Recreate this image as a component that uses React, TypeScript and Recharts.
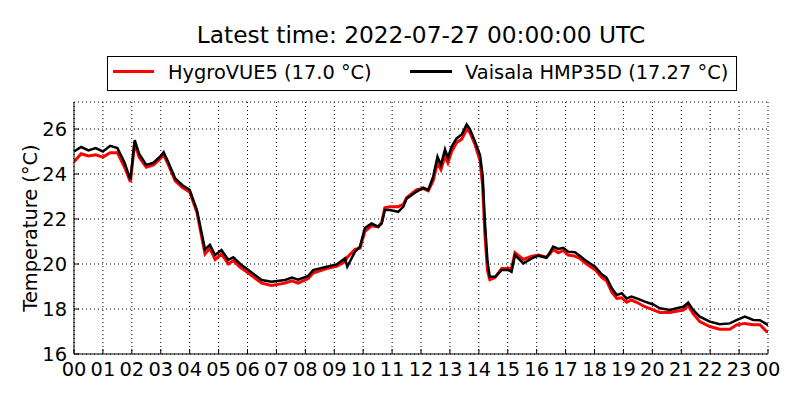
import React from 'react';
import { LineChart, Line, XAxis, YAxis, CartesianGrid } from 'recharts';

const hours = [0, 0.25, 0.5, 0.75, 1.0, 1.25, 1.5, 1.75, 1.95, 2.1, 2.25, 2.5, 2.75, 3.0, 3.1, 3.25, 3.5, 3.75, 4.0, 4.25, 4.53, 4.7, 4.88, 5.1, 5.34, 5.51, 5.75, 6.03, 6.49, 6.83, 7.3, 7.53, 7.75, 8.1, 8.27, 8.74, 9.08, 9.37, 9.45, 9.72, 9.89, 10.06, 10.29, 10.52, 10.64, 10.75, 10.93, 11.21, 11.39, 11.5, 11.85, 12.08, 12.25, 12.42, 12.57, 12.69, 12.83, 12.93, 13.06, 13.23, 13.41, 13.58, 13.69, 13.87, 14.04, 14.13, 14.21, 14.3, 14.38, 14.56, 14.79, 15.02, 15.13, 15.25, 15.54, 15.83, 16.06, 16.34, 16.46, 16.57, 16.75, 16.92, 17.09, 17.32, 17.49, 17.67, 17.84, 18.02, 18.25, 18.42, 18.6, 18.77, 18.94, 19.11, 19.28, 19.46, 19.74, 20.03, 20.26, 20.61, 20.84, 21.07, 21.24, 21.41, 21.64, 21.99, 22.33, 22.68, 22.91, 23.2, 23.49, 23.72, 23.95, 24];

const hmp35d = [25.0, 25.2, 25.05, 25.15, 25.0, 25.25, 25.15, 24.5, 23.75, 25.5, 24.9, 24.4, 24.5, 24.8, 24.97, 24.55, 23.8, 23.5, 23.3, 22.4, 20.65, 20.85, 20.4, 20.62, 20.18, 20.3, 20.0, 19.73, 19.29, 19.21, 19.29, 19.4, 19.3, 19.47, 19.73, 19.88, 19.98, 20.25, 19.88, 20.55, 20.77, 21.6, 21.8, 21.66, 21.8, 22.4, 22.4, 22.32, 22.55, 22.9, 23.22, 23.39, 23.29, 23.88, 24.77, 24.4, 25.1, 24.73, 25.22, 25.58, 25.76, 26.2, 26.0, 25.44, 24.84, 23.96, 21.88, 20.1, 19.43, 19.43, 19.73, 19.73, 19.65, 20.4, 20.03, 20.25, 20.37, 20.28, 20.52, 20.77, 20.67, 20.72, 20.55, 20.52, 20.37, 20.18, 20.03, 19.88, 19.54, 19.39, 18.92, 18.62, 18.7, 18.47, 18.55, 18.47, 18.33, 18.2, 18.03, 17.96, 18.03, 18.1, 18.28, 17.96, 17.66, 17.44, 17.32, 17.36, 17.51, 17.66, 17.51, 17.5, 17.33, 17.27];

const hygrovue5 = [24.55, 24.9, 24.8, 24.85, 24.75, 24.95, 24.95, 24.3, 23.65, 25.4, 24.75, 24.3, 24.4, 24.7, 24.85, 24.45, 23.7, 23.4, 23.2, 22.3, 20.45, 20.7, 20.2, 20.45, 20.0, 20.15, 19.85, 19.6, 19.15, 19.05, 19.15, 19.25, 19.15, 19.35, 19.6, 19.8, 19.9, 20.1, 20.3, 20.65, 20.7, 21.45, 21.7, 21.65, 21.85, 22.5, 22.55, 22.55, 22.65, 22.95, 23.3, 23.35, 23.25, 23.7, 24.5, 24.2, 24.8, 24.5, 25.0, 25.4, 25.55, 26.0, 25.85, 25.3, 24.6, 23.5, 21.3, 19.7, 19.3, 19.4, 19.8, 19.8, 19.8, 20.5, 20.2, 20.35, 20.4, 20.3, 20.45, 20.65, 20.5, 20.6, 20.4, 20.35, 20.25, 20.05, 19.9, 19.75, 19.4, 19.25, 18.75, 18.47, 18.5, 18.3, 18.4, 18.3, 18.1, 17.96, 17.85, 17.85, 17.9, 17.95, 18.15, 17.8, 17.44, 17.22, 17.1, 17.1, 17.29, 17.36, 17.3, 17.3, 17.0, 17.0];

const xTicks = [0, 1, 2, 3, 4, 5, 6, 7, 8, 9, 10, 11, 12, 13, 14, 15, 16, 17, 18, 19, 20, 21, 22, 23, 24];
const yTicks = [16, 18, 20, 22, 24, 26];

const titleText = 'Latest time: 2022-07-27 00:00:00 UTC';
const seriesNames = ['HygroVUE5 (17.0 °C)', 'Vaisala HMP35D (17.27 °C)'];

const data = hours.map((h, i) => ({ h, red: hygrovue5[i], black: hmp35d[i] }));

const FONT = 'DejaVu Sans, sans-serif';
const FS = 19.4;
const TICK = 5;
const MARGIN = 6;

const fmtHour = (v: number) => String(v % 24).padStart(2, '0');

const BottomTick = (props: any) => {
  const { x, y, payload } = props;
  const ay = y - MARGIN;
  return (
    <g>
      <line x1={x} y1={ay} x2={x} y2={ay - TICK} stroke="#000" strokeWidth={1} />
      <text x={x} y={y} dy={16} textAnchor="middle" fontSize={FS} fontFamily={FONT} fill="#000">
        {fmtHour(payload.value)}
      </text>
    </g>
  );
};

const TopTick = (props: any) => {
  const { x, y } = props;
  const ay = y + MARGIN;
  return <line x1={x} y1={ay} x2={x} y2={ay + TICK} stroke="#000" strokeWidth={1} />;
};

const LeftTick = (props: any) => {
  const { x, y, payload } = props;
  const ax = x + MARGIN;
  return (
    <g>
      <line x1={ax} y1={y} x2={ax + TICK} y2={y} stroke="#000" strokeWidth={1} />
      <text x={x - 1} y={y} dy={7} textAnchor="end" fontSize={FS} fontFamily={FONT} fill="#000">
        {payload.value}
      </text>
    </g>
  );
};

const RightTick = (props: any) => {
  const { x, y } = props;
  const ax = x - MARGIN;
  return <line x1={ax} y1={y} x2={ax - TICK} y2={y} stroke="#000" strokeWidth={1} />;
};

export default function App() {
  return (
    <div style={{ position: 'absolute', left: 0, top: 0, width: 800, height: 400, background: '#fff' }}>
      <LineChart
        width={800}
        height={400}
        data={data}
        margin={{ top: 102, right: 32, bottom: 16, left: 0 }}
      >
        <CartesianGrid stroke="#000" strokeDasharray="1 3" strokeWidth={1} />
        <XAxis
          dataKey="h"
          type="number"
          domain={[0, 24]}
          ticks={xTicks}
          height={30}
          tickSize={0}
          tickMargin={MARGIN}
          tick={<BottomTick />}
          axisLine={{ stroke: '#000' }}
          interval={0}
          allowDataOverflow
        />
        <XAxis
          xAxisId="top"
          orientation="top"
          dataKey="h"
          type="number"
          domain={[0, 24]}
          ticks={xTicks}
          height={0}
          tickSize={0}
          tickMargin={MARGIN}
          tick={<TopTick />}
          axisLine={{ stroke: '#000' }}
          interval={0}
        />
        <YAxis
          type="number"
          domain={[16, 27.2]}
          ticks={yTicks}
          width={74}
          tickSize={0}
          tickMargin={MARGIN}
          tick={<LeftTick />}
          axisLine={{ stroke: '#000' }}
          interval={0}
          allowDataOverflow
        />
        <YAxis
          yAxisId="right"
          orientation="right"
          type="number"
          domain={[16, 27.2]}
          ticks={yTicks}
          width={0}
          tickSize={0}
          tickMargin={MARGIN}
          tick={<RightTick />}
          axisLine={{ stroke: '#000' }}
          interval={0}
        />
        <Line
          type="linear"
          dataKey="red"
          stroke="#ff0000"
          strokeWidth={3}
          dot={false}
          isAnimationActive={false}
        />
        <Line
          type="linear"
          dataKey="black"
          stroke="#000000"
          strokeWidth={2.5}
          dot={false}
          isAnimationActive={false}
        />
      </LineChart>
      <svg
        width={800}
        height={400}
        style={{ position: 'absolute', left: 0, top: 0, pointerEvents: 'none' }}
      >
        <text x={421} y={43} textAnchor="middle" fontSize={23.3} fontFamily={FONT} fill="#000">
          {titleText}
        </text>
        <rect x={107.5} y={56.5} width={629} height={34} fill="#fff" stroke="#000" strokeWidth={1} />
        <line x1={113} y1={71.5} x2={154} y2={71.5} stroke="#ff0000" strokeWidth={3} />
        <text x={168} y={78.5} fontSize={FS} fontFamily={FONT} fill="#000">{seriesNames[0]}</text>
        <line x1={410} y1={71.5} x2={452} y2={71.5} stroke="#000" strokeWidth={3} />
        <text x={465} y={78.5} fontSize={FS} fontFamily={FONT} fill="#000">{seriesNames[1]}</text>
        <text
          x={30}
          y={228}
          transform="rotate(-90 30 228)"
          textAnchor="middle"
          dominantBaseline="central"
          fontSize={FS}
          fontFamily={FONT}
          fill="#000"
        >
          Temperature (°C)
        </text>
      </svg>
    </div>
  );
}
